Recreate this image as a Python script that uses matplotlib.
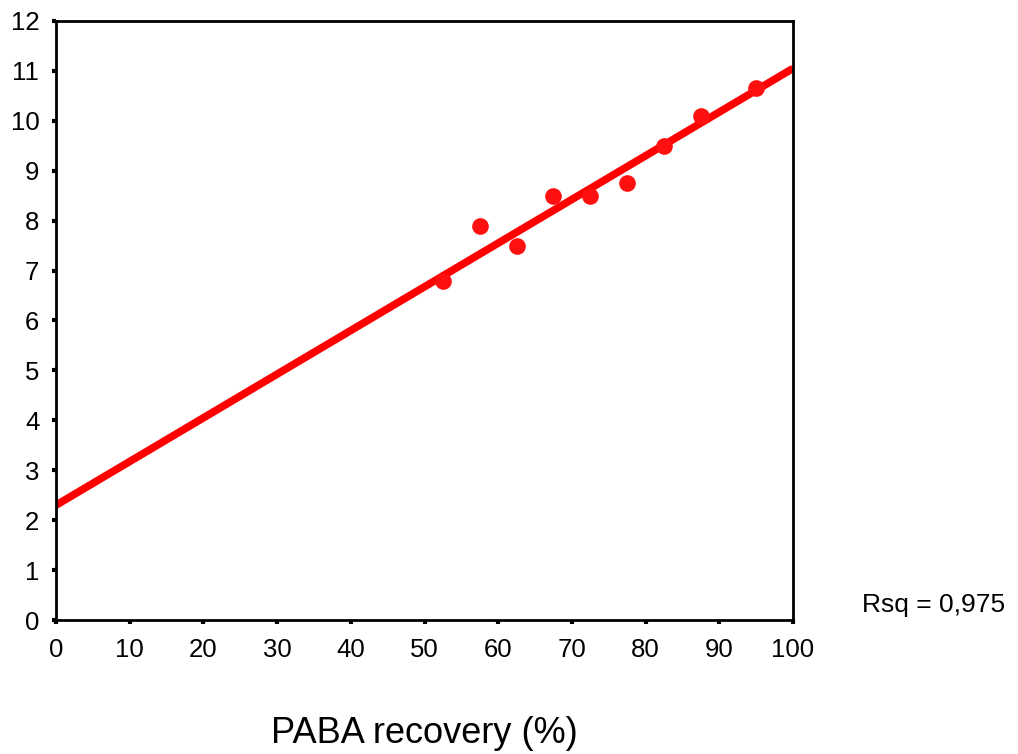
import numpy as np
import matplotlib.pyplot as plt

plt.rcParams['font.family'] = ['Liberation Sans', 'DejaVu Sans']

# data
recovery = [52.5, 57.5, 62.5, 67.5, 72.5, 77.5, 82.5, 87.5, 95.0]
values = [6.8, 7.9, 7.5, 8.5, 8.5, 8.75, 9.5, 10.1, 10.65]
fit_intercept = 2.3
fit_slope = 0.0875
rsq_text = 'Rsq = 0,975'
xticks = list(range(0, 101, 10))
yticks = list(range(0, 13))

fig = plt.figure(figsize=(10.18, 7.54), dpi=100)
ax = fig.add_axes([0.055, 0.1777, 0.724, 0.7945])

# regression line
xs = np.array([0, 100])
ax.plot(xs, fit_intercept + fit_slope * xs, color='#ff0000', lw=5.5,
        solid_capstyle='butt', zorder=2)
ax.plot(recovery, values, 'o', color='#ff1010', markersize=12,
        markeredgewidth=0, zorder=3)

ax.set_xlim(0, 100)
ax.set_ylim(0, 12)
ax.set_xticks(xticks)
ax.set_yticks(yticks)
ax.tick_params(direction='out', length=3, width=3, labelsize=18.5,
               color='black')
ax.tick_params(axis='x', pad=10)
ax.tick_params(axis='y', pad=9)
for s in ax.spines.values():
    s.set_linewidth(2)
    s.set_color('black')

ax.set_xlabel('PABA recovery (%)', fontsize=26, labelpad=39)
fig.text(0.847, 0.197, rsq_text, fontsize=19, va='center', ha='left')

fig.savefig('out.png', dpi=100)
